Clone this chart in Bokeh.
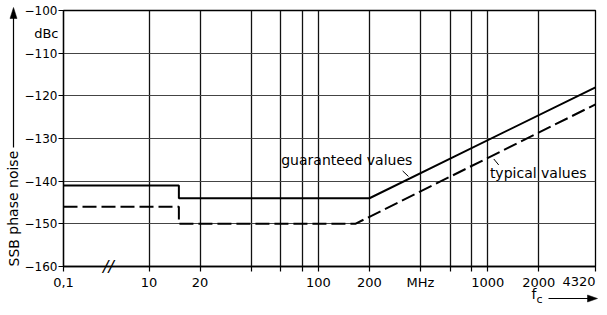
import math
from bokeh.plotting import figure
from bokeh.models import Range1d, FixedTicker, CustomJSTickFormatter
from bokeh.core.properties import value
from bokeh.embed import file_html
from bokeh.resources import INLINE

# ---- data ----
freq_guaranteed = [0.1, 15, 15, 200, 4320]
noise_guaranteed = [-141, -141, -144, -144, -118]
freq_typical = [0.1, 15, 15, 165, 4320]
noise_typical = [-146, -146, -150, -150, -122]

x_ticks = [0.1, 10, 20, 40, 60, 80, 100, 200, 400, 600, 800, 1000, 2000, 4320]
x_tick_labels = ["0,1", "10", "20", "", "", "", "100", "200", "MHz", "", "", "1000", "2000", ""]
y_ticks = [-160, -150, -140, -130, -120, -110, -100]


def fx(f):
    """log frequency axis with a compressed (broken) part below 10 MHz"""
    if f >= 10:
        return math.log10(f)
    return 0.495 + (math.log10(f) + 1) * 0.2525


FONT = "DejaVu Sans"
X0, X1 = fx(x_ticks[0]), fx(x_ticks[-1])
Y0, Y1 = y_ticks[0], y_ticks[-1]
# frame placement in canvas pixels
FL, FR, FT, FB = 63, 595, 10, 266
W, H = 599, 307


def ux(px):  # canvas pixel -> x data (for decorations outside the frame)
    return X0 + (px - FL) * (X1 - X0) / (FR - FL)


def vy(py):  # canvas pixel -> y data
    return Y1 - (py - FT) * (Y1 - Y0) / (FB - FT)


p = figure(width=W, height=H, output_backend="svg", toolbar_location=None,
           x_range=Range1d(X0, X1), y_range=Range1d(Y0, Y1),
           min_border_left=FL, min_border_right=W - FR, min_border_top=FT,
           min_border_bottom=H - FB)
p.background_fill_color = "white"
p.border_fill_color = "white"
p.outline_line_color = "black"
p.outline_line_width = 1.3

xt = FixedTicker(ticks=[fx(t) for t in x_ticks])
yt = FixedTicker(ticks=y_ticks)
p.xaxis.ticker = xt
p.yaxis.ticker = yt
p.xgrid.ticker = xt
p.ygrid.ticker = yt
p.xaxis.formatter = CustomJSTickFormatter(
    args=dict(pos=[fx(t) for t in x_ticks], labels=x_tick_labels),
    code="""
    let best = 0, bd = 1e9;
    for (let i = 0; i < pos.length; i++) {
        const d = Math.abs(pos[i] - tick);
        if (d < bd) { bd = d; best = i; }
    }
    return labels[best];
""")

for ax in (p.xaxis[0], p.yaxis[0]):
    ax.axis_line_color = "black"
    ax.axis_line_width = 1.3
    ax.major_tick_line_color = "black"
    ax.major_tick_line_width = 1.2
    ax.major_tick_out = 5
    ax.major_tick_in = 0
    ax.minor_tick_line_color = None
    ax.major_label_text_color = "black"
    ax.major_label_text_font = FONT
p.xaxis.major_label_text_font_size = "13px"
p.xaxis.major_label_standoff = 3
p.yaxis.major_label_text_font_size = "12px"
p.yaxis.major_label_standoff = 1

p.xgrid.grid_line_color = "#111111"
p.xgrid.grid_line_width = 1.3
p.ygrid.grid_line_color = "#444444"
p.ygrid.grid_line_width = 1.0

# ---- curves ----
p.line([fx(f) for f in freq_guaranteed], noise_guaranteed, line_color="black", line_width=2)
p.line([fx(f) for f in freq_typical], noise_typical, line_color="black", line_width=2,
       line_dash="14 5")

# ---- curve annotations (inside the frame) ----
txt = dict(text_font=value(FONT), text_color="black", text_baseline="middle")
p.text(x=[fx(60.3)], y=[-135.0], text=["guaranteed values"], text_align="left",
       text_font_size="14px", **txt)
p.text(x=[fx(1028)], y=[-138.1], text=["typical values"], text_align="left",
       text_font_size="14px", **txt)
p.segment(x0=[fx(314), fx(1084)], y0=[-137.6, -134.8], x1=[fx(340), fx(1159)],
          y1=[-138.9, -136.2], line_color="black", line_width=1)

# ---- decorations outside the frame (drawn on overlay level, not clipped) ----
# unit
p.text(x=[ux(58)], y=[vy(33)], text=["dBc"], text_align="right", text_font_size="13px",
       level="overlay", **txt)
# last x tick label, right aligned at the frame edge
p.text(x=[X1], y=[vy(281)], text=["4320"], text_align="right", text_font_size="13px",
       level="overlay", **txt)
# axis break mark
p.text(x=[ux(108)], y=[Y0], text=["//"], text_align="center", text_font_size="16px",
       text_font_style="italic", level="overlay", **txt)
# y title with arrow
p.text(x=[ux(13)], y=[vy(266)], text=["SSB phase noise"], angle=[math.pi / 2],
       text_align="left", text_font_size="14px", level="overlay", **txt)
p.line(x=[ux(13), ux(13)], y=[vy(147), vy(16)], line_color="black", line_width=1.2,
       level="overlay")
p.patch(x=[ux(9.5), ux(16.5), ux(13)], y=[vy(18), vy(18), vy(7)], fill_color="black",
        line_color="black", line_width=0.5, level="overlay")
# x title f_c with arrow
p.text(x=[ux(531)], y=[vy(293)], text=["f"], text_align="left", text_font_size="14px",
       level="overlay", **txt)
p.text(x=[ux(536)], y=[vy(298.5)], text=["c"], text_align="left", text_font_size="11px",
       level="overlay", **txt)
p.line(x=[ux(548), ux(588)], y=[vy(298), vy(298)], line_color="black", line_width=1.2,
       level="overlay")
p.patch(x=[ux(587), ux(587), ux(597)], y=[vy(294.5), vy(301.5), vy(298)],
        fill_color="black", line_color="black", line_width=0.5, level="overlay")

open("out.html", "w").write(file_html(p, INLINE))
